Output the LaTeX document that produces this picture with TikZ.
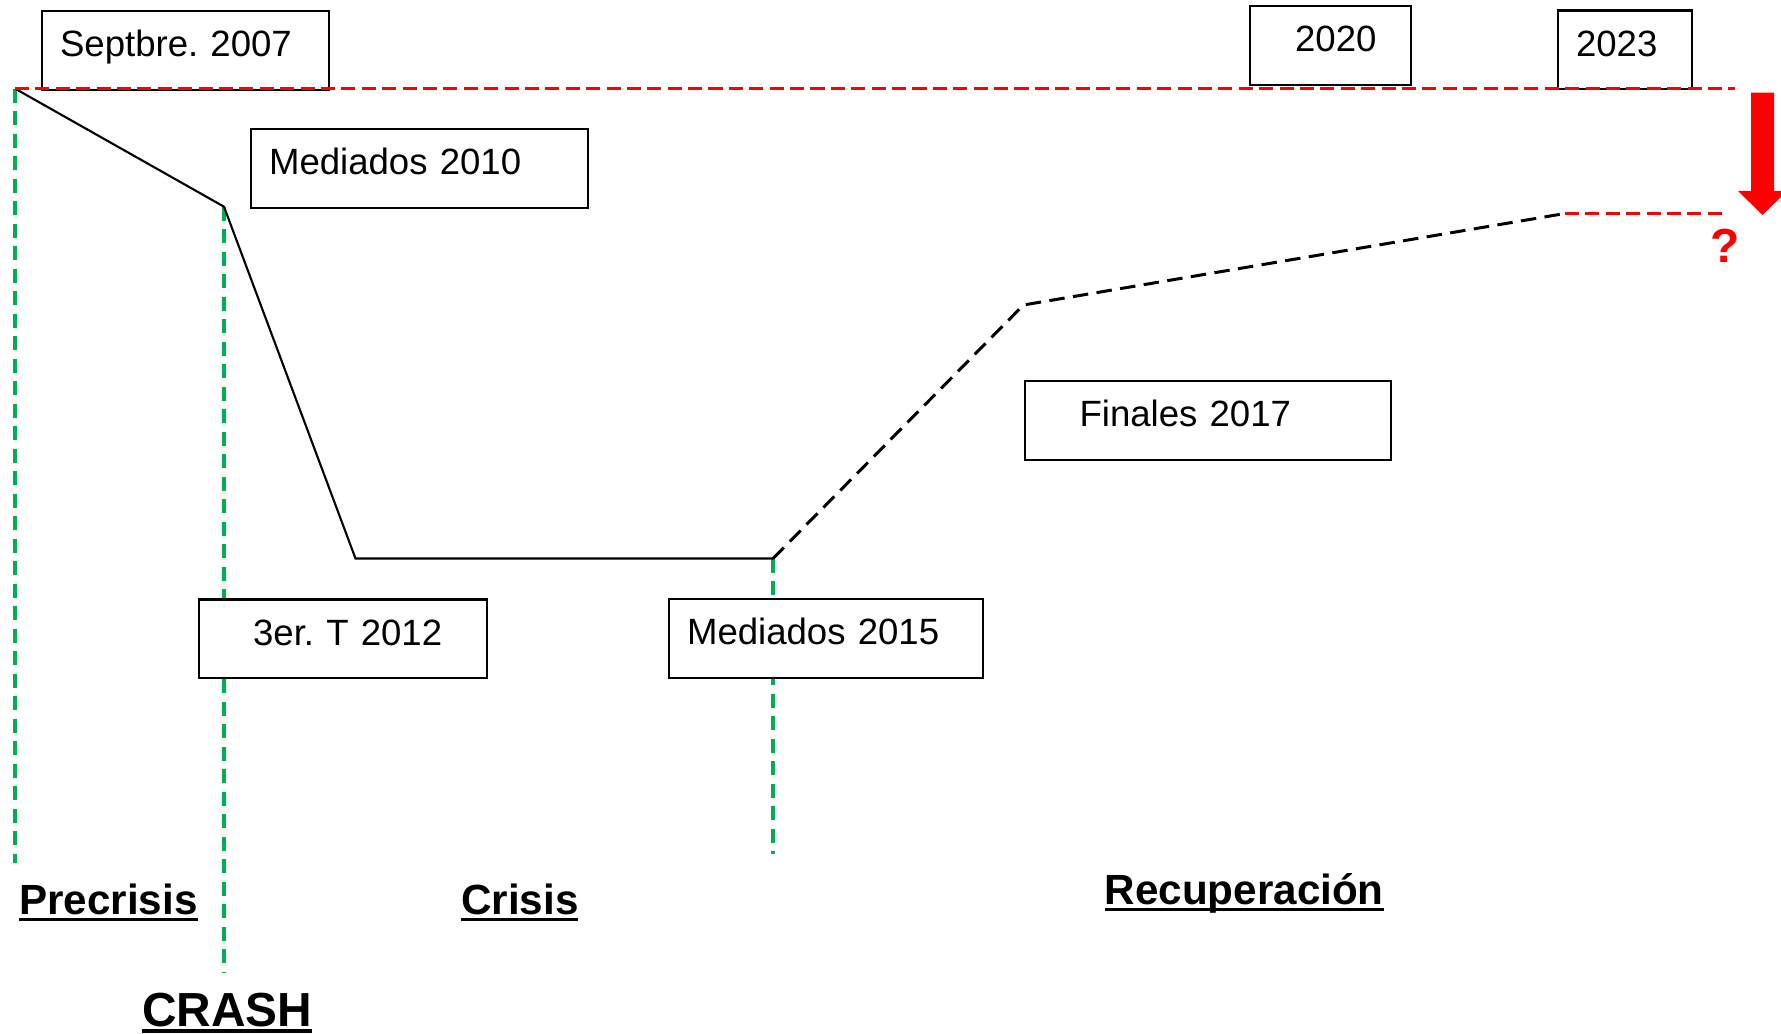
\documentclass[tikz,border=0pt]{standalone}
\usepackage{fontspec}
\setmainfont{Liberation Sans}
\usetikzlibrary{positioning}
\definecolor{crisisgreen}{RGB}{0,176,80}
\newcommand{\datefont}{\fontsize{10.4pt}{12pt}\selectfont}
\newcommand{\phaseul}[1]{\setbox0\hbox{#1}\rlap{\rule[-1.7pt]{\wd0}{0.95pt}}\box0}
\frenchspacing

\begin{document}
\begin{tikzpicture}[x=0.01cm,y=-0.01cm,
  datebox/.style={draw,fill=white,line width=0.6pt,anchor=north west,inner xsep=0pt,minimum height=0.785cm,
    align=left,text height=0.26cm,text depth=0.13cm,font=\datefont},
  phase/.style={anchor=base west,inner sep=0pt,font=\fontsize{12pt}{14pt}\selectfont\bfseries},
  greenline/.style={crisisgreen,line width=1pt,dash pattern=on 4pt off 2.4pt},
  redline/.style={red,line width=0.95pt,dash pattern=on 4pt off 1.8pt},
  trend/.style={black,line width=0.6pt},
  forecast/.style={black,line width=0.85pt,dash pattern=on 4.4pt off 2.4pt}]
  \useasboundingbox (0,0) rectangle (1781,1034);

  \coordinate (sept07) at (15,88.6);
  \coordinate (mid10)  at (224,206.7);
  \coordinate (q312)   at (355.5,558.5);
  \coordinate (mid15)  at (773,558.5);
  \coordinate (end17)  at (1023.5,305);
  \coordinate (y23)    at (1565,213.5);
  \coordinate (guess)  at (1724,213.5);
  \coordinate (topend) at (1735,88.6);
  \coordinate (g1end)  at (15,863);
  \coordinate (g2end)  at (224,972);
  \coordinate (g3end)  at (773,854);

  % phase limits
  \draw[greenline] (sept07) -- (g1end);
  \draw[greenline] (mid10) -- (g2end);
  \draw[greenline] (mid15) -- (g3end);

  \node[datebox,text width=2.87cm] (bsep07) at (41,10)     {\hspace*{0.18cm}Septbre. 2007};
  \node[datebox,text width=3.37cm] (bmid10) at (250,128)   {\hspace*{0.18cm}Mediados 2010};
  \node[datebox,text width=1.61cm] (b2020)  at (1249,5)    {\hspace*{0.45cm}2020};
  \node[datebox,text width=1.34cm] (b2023)  at (1557,9.5)  {\hspace*{0.18cm}2023};
  \node[datebox,text width=3.66cm] (bfin17) at (1023.5,380) {\hspace*{0.55cm}Finales 2017};
  \node[datebox,text width=2.88cm] (bq312)  at (198,598.5) {\hspace*{0.54cm}3er. T 2012};
  \node[datebox,text width=3.14cm] (bmid15) at (668,598)   {\hspace*{0.18cm}Mediados 2015};

  \draw[trend] (sept07) -- (mid10) -- (q312) -- (mid15);
  \draw[forecast] (mid15) -- (end17) -- (y23);
  \draw[redline] (sept07) -- (topend);
  \draw[redline] (y23) -- (guess);

  \fill[red] (1751,92.7) -- (1774,92.7) -- (1774,191) -- (1787,191) -- (1762.5,215)
    -- (1738,191) -- (1751,191) -- cycle;
  \node[red,anchor=base,inner sep=0pt,font=\fontsize{13.6pt}{16pt}\selectfont\bfseries] (quest) at (1725,263) {?};

  \node[phase] (precrisis) at (18.5,915)  {\phaseul{Precrisis}};
  \node[phase] (crisis)    at (460.5,915) {\phaseul{Crisis}};
  \node[phase,font=\fontsize{13.6pt}{16pt}\selectfont\bfseries] (crash) at (141.5,1026.7) {\phaseul{CRASH}};
  \node[phase] (recup) at (1104,905) {\phaseul{Recuperación}};
\end{tikzpicture}
\end{document}
